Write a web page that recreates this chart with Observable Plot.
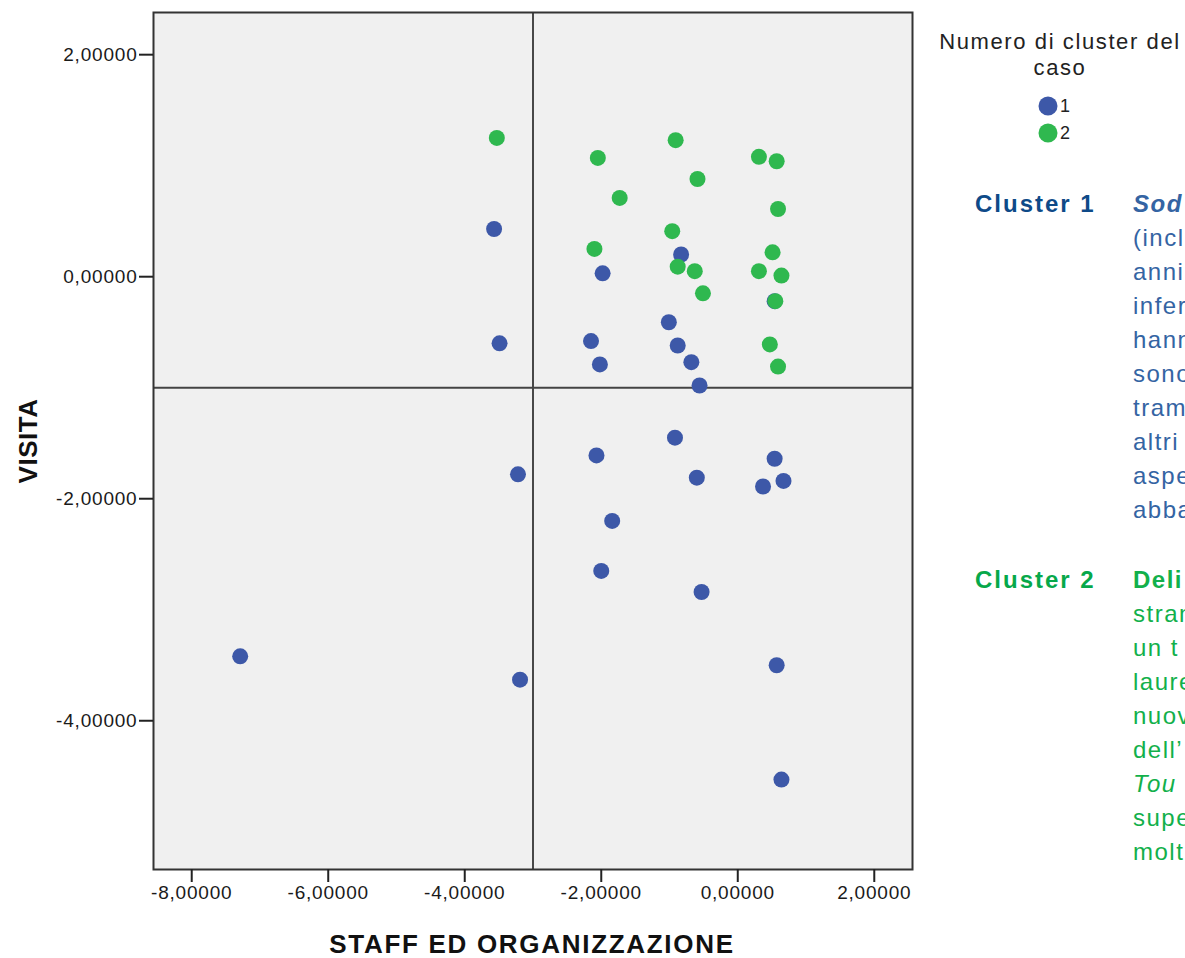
<!DOCTYPE html>
<html>
<head>
<meta charset="utf-8">
<script src="https://cdn.jsdelivr.net/npm/d3@7"></script>
<script src="https://cdn.jsdelivr.net/npm/@observablehq/plot@0.6"></script>
<style>
html,body{margin:0;padding:0;background:#fff;overflow:hidden}
#wrap{position:relative;width:1185px;height:958px;overflow:hidden;font-family:"Liberation Sans",Arial,sans-serif}
.abs{position:absolute;white-space:nowrap}
.ttl{font-weight:bold;color:#111;font-size:26px}
.blk{position:absolute;white-space:nowrap;font-size:24px;line-height:34px;letter-spacing:1.5px}
</style>
</head>
<body>
<div id="wrap"></div>
<script>
// ---- data ----
const cluster1X = [-3.57,-0.83,-1.98,-1.01,-3.49,-2.15,-0.88,-2.02,-0.68,-0.56,-0.92,-2.07,-3.22,-0.60,0.54,0.37,0.67,-1.84,-2.00,-0.53,-7.29,0.57,-3.19,0.64,0.54];
const cluster1Y = [0.43,0.20,0.03,-0.41,-0.60,-0.58,-0.62,-0.79,-0.77,-0.98,-1.45,-1.61,-1.78,-1.81,-1.64,-1.89,-1.84,-2.20,-2.65,-2.84,-3.42,-3.50,-3.63,-4.53,-0.22];
const cluster2X = [-3.53,-0.91,-2.05,0.31,0.57,-0.59,-1.73,0.59,-0.96,-2.10,0.51,-0.88,-0.63,0.31,0.64,-0.51,0.55,0.47,0.59];
const cluster2Y = [1.25,1.23,1.07,1.08,1.04,0.88,0.71,0.61,0.41,0.25,0.22,0.09,0.05,0.05,0.01,-0.15,-0.22,-0.61,-0.81];
const clusters = [1, 2];
const clusterColors = ["#3d58a8", "#2fb84f"];
const xTicks = [-8, -6, -4, -2, 0, 2];
const yTicks = [2, 0, -2, -4];
const refX = [-3];
const refY = [-1];
const xTitle = "STAFF ED ORGANIZZAZIONE";
const yTitle = "VISITA";
const legendTitle = ["Numero di cluster del", "caso"];
const cluster1Lines = ["(incl", "anni", "infer", "hann", "sono", "tram", "altri", "aspe", "abba"];
const cluster2Lines = ["stran", "un t", "laure", "nuov", "dell’", "Tou", "supe", "molt"];

const points = [
  ...cluster1X.map((x, i) => ({x, y: cluster1Y[i], cluster: 1})),
  ...cluster2X.map((x, i) => ({x, y: cluster2Y[i], cluster: 2}))
];
const fmt = d => d.toFixed(5).replace(".", ",");

const chart = Plot.plot({
  width: 1185,
  height: 958,
  marginLeft: 153,
  marginRight: 273,
  marginTop: 12,
  marginBottom: 89,
  style: {fontFamily: "'Liberation Sans', Arial, sans-serif", fontSize: "19px", color: "#1a1a1a", background: "transparent", letterSpacing: "0.8px"},
  x: {domain: [-8.56, 2.56]},
  y: {domain: [-5.34, 2.38]},
  color: {domain: clusters, range: clusterColors},
  marks: [
    Plot.frame({fill: "#f0f0f0"}),
    Plot.ruleX(refX, {stroke: "#111", strokeWidth: 1.5}),
    Plot.ruleY(refY, {stroke: "#444", strokeWidth: 2}),
    Plot.dot(points, {x: "x", y: "y", fill: "cluster", r: 8}),
    Plot.frame({stroke: "#333", strokeWidth: 2}),
    Plot.axisX({ticks: xTicks, tickFormat: fmt, tickSize: 13, tickPadding: 3, label: null, stroke: "#222", strokeWidth: 2}),
    Plot.axisY({ticks: yTicks, tickFormat: fmt, tickSize: 14, tickPadding: 2, label: null, stroke: "#222", strokeWidth: 2})
  ]
});
chart.style.position = "absolute";
chart.style.left = "0px";
chart.style.top = "0px";
const wrap = document.getElementById("wrap");
wrap.appendChild(chart);

function addDiv(html, css, cls) {
  const d = document.createElement("div");
  d.className = cls || "abs";
  d.innerHTML = html;
  Object.assign(d.style, css);
  wrap.appendChild(d);
  return d;
}
// axis titles
addDiv(xTitle, {left: "532px", top: "944px", transform: "translate(-50%,-50%)", letterSpacing: "1.7px"}, "abs ttl");
addDiv(yTitle, {left: "28px", top: "441px", transform: "translate(-50%,-50%) rotate(-90deg)", letterSpacing: "0.5px"}, "abs ttl");

// legend
addDiv(legendTitle.join("<br>"), {left: "935px", top: "29px", width: "250px", textAlign: "center", fontSize: "22px", lineHeight: "26px", letterSpacing: "1.6px", color: "#222"});
const leg = d3.select(wrap).append("svg").attr("width", 60).attr("height", 60)
  .style("position", "absolute").style("left", "1030px").style("top", "90px");
clusters.forEach((c, i) => {
  leg.append("circle").attr("cx", 18).attr("cy", 16 + i * 27).attr("r", 9.5).attr("fill", clusterColors[i]);
  leg.append("text").attr("x", 30).attr("y", 16 + i * 27).attr("dy", "0.36em")
    .attr("font-size", 18).attr("font-family", "'Liberation Sans', Arial, sans-serif").attr("fill", "#222").text(c);
});

// cluster descriptions
addDiv("Cluster 1", {left: "975px", top: "187px", fontSize: "24px", lineHeight: "34px", fontWeight: "bold", letterSpacing: "2px", color: "#0e4a88"});
addDiv("<b><i>Sod</i></b><br>" + cluster1Lines.join("<br>"), {left: "1133px", top: "187px", color: "#3464a3"}, "blk");
addDiv("Cluster 2", {left: "975px", top: "563px", fontSize: "24px", lineHeight: "34px", fontWeight: "bold", letterSpacing: "2px", color: "#06a84a"});
addDiv("<b>Deli</b><br>" + cluster2Lines.map(s => s === "Tou" ? "<i>Tou</i>" : s).join("<br>"), {left: "1133px", top: "563px", color: "#12b04b"}, "blk");
</script>
</body>
</html>
